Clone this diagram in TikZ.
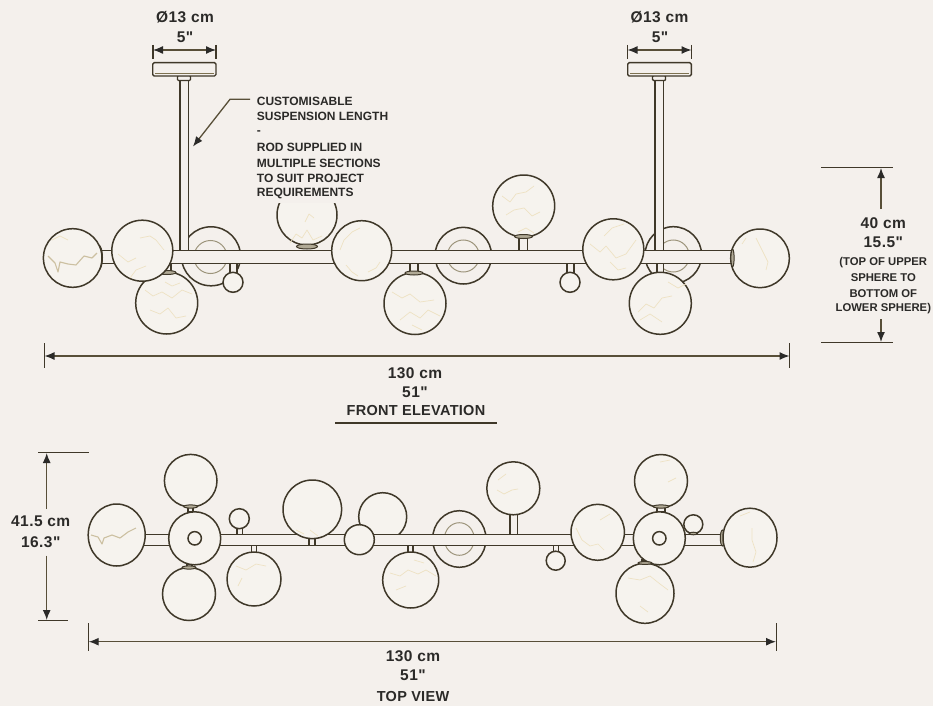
\documentclass[tikz,border=0pt]{standalone}
\usepackage{fontspec}
\newfontfamily\notefont{Liberation Sans}
\newfontfamily\numfont[LetterSpace=3]{Liberation Sans}
\newfontfamily\capfont[LetterSpace=2]{Liberation Sans}
\usetikzlibrary{arrows.meta}
\definecolor{paper}{HTML}{F4F0EC}
\definecolor{ink}{HTML}{3F3829}
\definecolor{brass}{HTML}{7D7150}
\definecolor{glass}{HTML}{F6F3EE}
\definecolor{veinc}{HTML}{EEE2C4}
\definecolor{txt}{HTML}{2B2A28}
\tikzset{
  ball/.style={draw=ink,line width=1.5pt,fill=glass},
  discback/.style={draw=ink,line width=1.5pt,fill=paper},
  ring/.style={draw=brass!75,line width=1pt},
  tube/.style={draw=ink,line width=1.4pt,fill=paper},
  capc/.style={draw=ink,line width=1pt,fill=brass!60},
  vein/.style={draw=veinc,line width=.7pt,line join=round},
  veinb/.style={draw=veinc!70!brass,line width=1.1pt,line join=round},
  dimline/.style={draw=brass!70!black,line width=1.3pt},
  dimarrow/.style={dimline,-{Latex[length=10pt,width=8pt,color=txt]}},
  dimboth/.style={dimline,{Latex[length=10pt,width=8pt,color=txt]}-{Latex[length=10pt,width=8pt,color=txt]}},
  tick/.style={draw=ink,line width=1.2pt},
  lab/.style={text=txt,inner sep=0pt,align=center,font=\numfont\fontsize{15.5}{16}\selectfont\bfseries},
  ttl/.style={text=txt,inner sep=0pt,align=center,font=\capfont\fontsize{14.5}{15}\selectfont\bfseries},
  small/.style={text=txt,inner sep=0pt,align=center,font=\notefont\fontsize{11.3}{12}\selectfont\bfseries},
  note/.style={text=txt,inner sep=0pt,anchor=west,font=\notefont\fontsize{12}{13}\selectfont\bfseries}
}
\begin{document}
\begin{tikzpicture}[x=1pt,y=-1pt]
\useasboundingbox (0,0) rectangle (933,706);
\fill[paper] (0,0) rectangle (933,706);

%% ---------- FRONT ELEVATION ----------
% things behind the bar
\fill[discback] (211,256.3) circle (29.5);
\draw[ring] (210.5,257) circle (16.5);
\fill[discback] (463.3,255.7) circle (28.3);
\draw[ring] (463.3,256) circle (16);
\fill[discback] (673.3,255) circle (28.3);
\draw[ring] (673.3,256) circle (16);
\begin{scope}
\clip (270,203.5) rectangle (345,250);
\fill[ball] (307,215) circle (30);
\end{scope}
\draw[vein] (290,243) -- (296,234) -- (302,238) -- (307,230) -- (313,240) -- (322,236);
\draw[vein] (305,222) -- (309,214) -- (314,218);
% ceiling rods and canopies
\fill[tube] (180,78) rectangle (188.3,251);
\fill[tube] (655,78) rectangle (663.3,251);
\fill[tube,rounded corners=1pt] (177.5,75.5) rectangle (190.5,80.5);
\fill[tube,rounded corners=1pt] (652.5,75.5) rectangle (665.5,80.5);
\fill[tube,rounded corners=1.5pt] (152.7,62.7) rectangle (216,76);
\fill[tube,rounded corners=1.5pt] (627.7,62.7) rectangle (691.3,76);
\draw[brass,line width=1pt] (155,73.5) -- (214,73.5) (630,73.5) -- (689,73.5);
% stems below and above the bar
\fill[tube] (519,236) rectangle (527.7,251);
\fill[tube] (567,262) rectangle (574,274);
\fill[tube] (230,262) rectangle (237,274);
\fill[tube] (410,262) rectangle (418,274);
\fill[tube] (657,262) rectangle (663.5,274);
\fill[tube] (163,262) rectangle (171,273);
% bar
\fill[tube] (98,250.7) rectangle (736,263.3);
\fill[capc] (307,246.5) ellipse (10.5 and 2.5);
% small balls
\fill[ball] (233,282.3) circle (10);
\fill[ball] (570,282.3) circle (10);
% lower spheres
\fill[ball] (166.7,303) circle (31);
\draw[vein] (145,290) -- (153,296) -- (162,292) -- (172,298) -- (182,290) -- (192,294);
\draw[vein] (150,310) -- (160,314) -- (168,308) -- (176,318) -- (186,316);
\draw[vein] (165,282) -- (172,286) -- (180,283);
\fill[capc] (167,272.5) ellipse (9 and 2);
\fill[ball] (415,303.5) circle (31);
\draw[vein] (392,292) -- (402,298) -- (410,294) -- (420,302) -- (434,300);
\draw[vein] (400,320) -- (410,312) -- (420,318) -- (428,310) -- (440,316);
\draw[vein] (412,325) -- (422,330);
\fill[capc] (414,273) ellipse (9 and 2);
\fill[ball] (660.3,303.3) circle (31);
\draw[vein] (638,312) -- (646,304) -- (654,308) -- (662,298) -- (672,296);
\draw[vein] (640,320) -- (650,314) -- (662,322);
\draw[vein] (668,282) -- (678,288) -- (686,284);
% main spheres
\fill[capc] (98.5,257.5) ellipse (4 and 12.5);
\fill[ball] (72.7,258) circle (29.3);
\draw[veinb] (48,256) -- (55,263) -- (58,272) -- (60,262) -- (68,264) -- (76,265) -- (84,256) -- (92,258) -- (97,253);
\draw[vein] (52,240) -- (60,236) -- (68,240);
\fill[ball] (142.3,250.7) circle (30.5);
\draw[vein] (118,254) -- (128,262) -- (136,258);
\draw[vein] (140,238) -- (150,236) -- (156,240) -- (164,250);
\draw[vein] (130,278) -- (136,270) -- (146,266);
\fill[ball] (361.7,250.7) circle (30);
\draw[vein] (340,250) -- (344,240) -- (352,232) -- (360,228);
\draw[vein] (346,265) -- (352,272) -- (358,276);
\draw[vein] (368,272) -- (376,268) -- (380,262);
\fill[ball] (523.7,206) circle (31);
\draw[vein] (502,196) -- (510,202) -- (516,194) -- (526,192) -- (534,186);
\draw[vein] (506,215) -- (514,210) -- (524,208) -- (532,216) -- (540,212);
\draw[vein] (518,232) -- (526,228) -- (534,233);
\fill[capc] (523.5,236.5) ellipse (9 and 2);
\fill[ball] (613.3,249.3) circle (30.5);
\draw[vein] (590,244) -- (600,252) -- (606,246) -- (616,258) -- (626,254) -- (636,240);
\draw[vein] (604,236) -- (612,228) -- (624,224);
\draw[vein] (610,262) -- (618,270) -- (626,268);
\fill[ball] (760,258.3) circle (29.3);
\draw[vein] (756,238) -- (760,246) -- (764,254) -- (768,262) -- (766,270);
\draw[vein] (742,244) -- (746,238);
\fill[capc] (732.5,258) ellipse (1.6 and 9);

% front dimensions
\coordinate (fl) at (44.5,356); \coordinate (fr) at (789.5,356);
\draw[tick] (44.5,343) -- (44.5,368) (789.5,343) -- (789.5,368);
\draw[dimboth] (fl) -- (fr);
\node[lab] (fa) at (415,373) {130 cm};
\node[lab] (fb) at (415,392) {51"};
\node[ttl] (fc) at (416,410.5) {FRONT ELEVATION};
\coordinate (ula) at (335,423); \coordinate (ulb) at (497,423);
\draw[tick] (ula) -- (ulb);
% canopy dimensions
\node[lab] (da) at (185,17.7) {Ø13 cm};
\node[lab] (db) at (185,37) {5"};
\node[lab] (dc) at (659.5,17.7) {Ø13 cm};
\node[lab] (dd) at (660,37) {5"};
\coordinate (c1a) at (153,50); \coordinate (c1b) at (216,50);
\coordinate (c2a) at (627.5,50); \coordinate (c2b) at (691.5,50);
\draw[tick] (153,45) -- (153,59) (216,45) -- (216,59) (627.5,45) -- (627.5,59) (691.5,45) -- (691.5,59);
\draw[dimboth] (c1a) -- (c1b);
\draw[dimboth] (c2a) -- (c2b);
% note
\coordinate (lstart) at (250,99.3); \coordinate (lbend) at (230,99.3); \coordinate (lend) at (193,146.5);
\draw[dimarrow] (lstart) -- (lbend) -- (lend);
\node[note] (n1) at (256.7,101) {CUSTOMISABLE};
\node[note] (n2) at (256.7,116.7) {SUSPENSION LENGTH};
\node[note] (n3) at (256.7,132.3) {-};
\node[note] (n4) at (256.7,147.7) {ROD SUPPLIED IN};
\node[note] (n5) at (256.7,163) {MULTIPLE SECTIONS};
\node[note] (n6) at (256.7,178.7) {TO SUIT PROJECT};
\node[note] (n7) at (256.7,193.7) {REQUIREMENTS};
% height dimension
\coordinate (h1) at (821,167.7); \coordinate (h2) at (892.7,167.7);
\coordinate (h3) at (821,342.3); \coordinate (h4) at (892.7,342.3);
\draw[tick] (h1) -- (h2); \draw[tick] (h3) -- (h4);
\coordinate (hu) at (881,209); \coordinate (hut) at (881,168);
\coordinate (hd) at (881,319.3); \coordinate (hdt) at (881,342);
\draw[dimarrow] (hu) -- (hut);
\draw[dimarrow] (hd) -- (hdt);
\node[lab] (ha) at (883.3,222.7) {40 cm};
\node[lab] (hb) at (883.3,242.7) {15.5"};
\node[small] (hc) at (883.3,262.3) {(TOP OF UPPER};
\node[small] (hd2) at (883.3,277.7) {SPHERE TO};
\node[small] (he) at (883.3,293.3) {BOTTOM OF};
\node[small] (hf) at (883.3,309) {LOWER SPHERE)};

%% ---------- TOP VIEW ----------
\fill[ball] (382.7,516.7) circle (24);
\fill[discback] (459.3,539) ellipse (26.7 and 28.3);
\draw[ring] (459.3,539) ellipse (15 and 16.3);
\fill[tube] (510,514) rectangle (517.3,535);
\fill[tube] (237,526) rectangle (242.7,535);
\fill[tube] (251.7,545) rectangle (256.7,554);
\fill[tube] (408,545) rectangle (413,554);
\fill[tube] (553.3,545) rectangle (558.3,552);
\fill[tube] (140,534.3) rectangle (725,545.7);
\fill[ball] (239.3,518.7) circle (10);
\fill[ball] (555.7,560.7) circle (9.5);
\fill[ball] (693.3,524.3) circle (9.5);
\fill[capc] (693.3,533.5) ellipse (4 and 1.3);
\fill[tube] (188,505) rectangle (193,512);
\fill[tube] (187,564) rectangle (192,570);
\fill[tube] (657,506) rectangle (665,512);
\fill[tube] (642,560) rectangle (648,566);
\fill[capc] (141,536) ellipse (2.8 and 10.5);
\fill[ball] (116.7,535) ellipse (28.5 and 31);
\draw[veinb] (91,535) -- (98,537) -- (102,544) -- (104,538) -- (112,535) -- (120,538) -- (128,532) -- (136,528);
\fill[ball] (190.7,480.7) circle (26.3);
\fill[capc] (190.7,506.5) ellipse (7 and 1.6);
\fill[ball] (189,594) circle (26.5);
\fill[capc] (189,567.5) ellipse (7 and 1.6);
\fill[ball] (194.7,538.3) ellipse (26 and 26.5);
\draw[draw=ink,line width=1.5pt] (194.7,538.3) circle (6.7);
\fill[ball] (254,579) circle (27);
\draw[vein] (236,566) -- (246,570) -- (256,564) -- (266,566);
\draw[vein] (238,586) -- (242,578);
\fill[ball] (312.3,509.3) circle (29.3);
\draw[vein] (296,530) -- (304,534);
\draw[vein] (310,530) -- (318,536);
\draw[ink,line width=1.2pt] (309,539) -- (309,545) (315,539) -- (315,545);
\fill[ball] (359.3,539.7) circle (15);
\fill[ball] (410.7,580) circle (28);
\draw[vein] (390,573) -- (400,576) -- (408,570) -- (418,574) -- (426,570) -- (436,576);
\draw[vein] (396,590) -- (406,586);
\draw[vein] (414,560) -- (424,563);
\fill[ball] (513.3,488.3) circle (26.5);
\draw[vein] (497,490) -- (504,494) -- (512,490) -- (518,489);
\draw[vein] (498,480) -- (506,474);
\fill[ball] (597.7,532.3) ellipse (26.7 and 28);
\draw[vein] (576,528) -- (582,540) -- (590,546) -- (598,544) -- (604,550);
\draw[vein] (600,520) -- (610,514);
\fill[ball] (659.3,538.3) ellipse (26 and 26.5);
\draw[draw=ink,line width=1.5pt] (659.3,538.3) circle (6.7);
\fill[ball] (661,481) circle (26.5);
\fill[capc] (661,506.5) ellipse (8 and 1.6);
\draw[vein] (668,482) -- (676,478);
\draw[vein] (660,462) -- (670,460);
\fill[ball] (645,593.3) ellipse (29 and 30);
\fill[capc] (645,563) ellipse (7 and 1.4);
\draw[vein] (628,578) -- (640,580) -- (650,576) -- (660,584) -- (668,590);
\draw[vein] (640,606) -- (648,612);
\fill[capc] (722.5,538) ellipse (2.2 and 8);
\fill[ball] (750,537.7) ellipse (27 and 29.5);
\draw[vein] (752,528) -- (752,540) -- (756,552) -- (753,562);
\draw[vein] (740,516) -- (750,512);

% top-view dimensions
\coordinate (t1) at (38.3,452.7); \coordinate (t2) at (89.3,452.7);
\coordinate (t3) at (38.3,620.4); \coordinate (t4) at (68.3,620.4);
\draw[tick] (t1) -- (t2); \draw[tick] (t3) -- (t4);
\coordinate (tu) at (46.7,509); \coordinate (tut) at (46.7,453);
\coordinate (td) at (46.7,555.7); \coordinate (tdt) at (46.7,620);
\draw[dimarrow] (tu) -- (tut);
\draw[dimarrow] (td) -- (tdt);
\node[lab] (ta) at (40.7,521.7) {41.5 cm};
\node[lab] (tb) at (40.7,541.7) {16.3"};
\coordinate (wl) at (88.7,641.7); \coordinate (wr) at (776,641.7);
\draw[tick] (88.7,623) -- (88.7,650.7) (776.4,623) -- (776.4,650.7);
\draw[dimboth] (wl) -- (wr);
\node[lab] (wa) at (413,655.7) {130 cm};
\node[lab] (wb) at (413,675.7) {51"};
\node[ttl] (wc) at (413,696.7) {TOP VIEW};
\end{tikzpicture}
\end{document}
